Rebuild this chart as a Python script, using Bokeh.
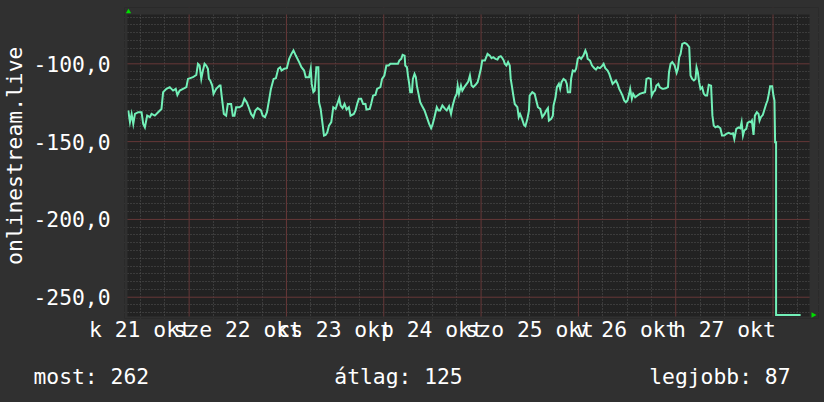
import math
from bokeh.plotting import figure
from bokeh.layouts import column, row
from bokeh.models import (FixedTicker, Grid, BoxAnnotation, PolyAnnotation, AllLabels, Range1d, Span)
from bokeh.core.properties import value
from bokeh.embed import file_html
from bokeh.resources import INLINE

# ---- data (hours since 21 okt 00:00, value) ----
hours = [9.0, 9.41, 9.82, 10.23, 10.64, 11.45, 12.27, 12.68, 13.09, 13.66, 14.32, 14.73, 15.54, 16.36,
         17.18, 17.59, 18.41, 19.23, 20.04, 20.70, 21.11, 21.68, 22.50, 23.32, 23.72, 24.95, 25.77, 26.18,
         26.59, 27.0, 27.4, 27.81, 28.22, 28.63, 28.88, 29.2, 29.7, 30.02, 30.68, 31.5, 31.74, 32.07, 32.56,
         33.13, 33.54, 34.36, 34.77, 35.18, 35.59, 36.4, 37.06, 37.63, 38.2, 38.69, 39.27, 39.84, 40.33, 40.9,
         41.72, 42.13, 42.70, 43.19, 43.76, 44.17, 44.83, 45.40, 45.97, 46.46, 46.79, 47.44, 48.10, 48.67,
         49.24, 49.73, 50.31, 51.13, 51.70, 52.35, 52.76, 53.58, 53.99, 54.23, 54.64, 54.97, 55.38, 55.87,
         56.03, 56.44, 56.85, 57.26, 57.67, 58.08, 58.49, 59.06, 59.55, 60.12, 60.53, 61.02, 61.35, 61.84,
         62.33, 62.82, 63.40, 63.80, 64.62, 65.03, 65.44, 65.85, 66.42, 66.91, 67.49, 67.73, 68.55, 68.88,
         69.37, 69.94, 70.35, 71.17, 71.58, 72.15, 72.64, 73.21, 73.62, 74.44,
         74.85, 75.50, 75.83, 76.32, 76.65, 77.14, 77.30, 77.71, 77.96, 78.28, 78.53, 78.94, 79.18, 79.59,
         79.92, 80.16, 80.57, 80.98, 81.39, 82.05, 82.62, 83.19, 83.68, 84.01, 84.50, 85.07, 85.48, 85.89,
         86.46, 87.12, 87.53, 88.10, 88.59, 89.0, 89.57, 89.98, 90.23, 90.55, 91.04, 91.37, 91.86, 92.44,
         92.84, 93.25, 93.66, 94.07, 94.64, 95.14, 95.46, 95.95, 96.28, 96.94, 97.59, 98.16, 98.57, 98.98,
         99.55, 100.04, 100.37, 100.86, 101.27, 101.60, 101.84, 102.25, 102.66, 103.07, 103.31, 103.64,
         103.89, 104.30, 104.95, 105.28, 105.61, 106.10, 106.59, 106.92, 107.41, 107.81,
         107.98, 108.63, 109.21, 109.61, 110.02, 110.60, 111.09, 111.66, 112.07, 112.48, 112.72, 113.30,
         113.70, 113.87, 114.36, 114.69, 115.18, 115.50, 115.83, 116.32, 116.81, 117.14, 117.39, 117.96,
         118.20, 118.61, 119.10, 119.43, 119.84, 120.25, 120.66, 121.23, 121.72, 122.05, 122.29, 122.87,
         123.36, 123.93, 124.34, 124.75, 125.32, 125.81, 126.22, 126.63, 127.20, 127.61, 128.02, 128.43,
         128.84, 129.25, 129.66, 130.07, 130.47, 130.88, 131.29, 131.70, 132.11, 132.52, 132.77, 133.18,
         133.50, 134.0, 134.57, 135.14, 135.79, 136.45, 136.78, 137.27, 137.84, 138.08, 138.49, 138.90,
         139.23, 139.72, 140.05, 140.70,
         140.94, 141.52, 142.09, 142.34, 142.74, 143.15, 143.73, 144.22, 144.54, 144.87, 145.20, 145.61,
         146.18, 146.67, 147.0, 147.33, 147.65, 148.06, 148.47, 148.88, 149.13, 149.45, 149.78, 150.11,
         150.52, 150.92, 151.33, 151.74, 152.15, 152.72, 153.05, 153.38, 153.79, 154.36, 155.01, 155.42,
         155.99, 156.49, 157.06, 157.63, 158.12, 158.45, 158.94, 159.51, 159.92, 160.25, 160.58, 160.90,
         161.39, 161.72, 162.21, 162.54, 162.79, 163.19, 163.52, 164.01, 164.42, 164.67, 164.99, 165.49,
         165.81, 166.30, 166.63, 166.96, 167.28, 167.78, 168.10, 168.35, 168.51, 168.75, 168.75, 174.8]

values = [-130.0, -137.5, -132.2, -138.6, -132.2, -131.1, -131.1, -138.6, -140.8, -133.3, -134.3, -132.2,
          -133.3, -131.1, -129.0, -118.2, -116.1, -115.0, -117.2, -116.1, -120.0, -117.2, -116.1, -115.0,
          -109.7, -108.6, -107.1, -100.0, -101.1, -109.7, -104.3, -100.0, -101.1, -103.2, -109.7, -110.7,
          -114.0, -119.3, -116.1, -114.0, -114.0, -121.5, -132.2, -133.3, -125.8, -125.8, -133.3, -133.3,
          -127.9, -127.9, -126.8, -122.5, -124.7, -127.9, -132.2, -134.3, -130.0, -128.5,
          -130.0, -133.3, -134.3, -131.1, -122.5, -116.1, -109.7, -109.2, -103.2, -102.2, -104.3, -103.2,
          -102.8, -96.8, -93.6, -91.4, -94.7, -98.9, -102.2, -104.3, -108.6, -108.6, -103.2, -112.9, -118.2,
          -117.2, -102.2, -102.2, -124.7, -129.0, -137.5, -146.1, -145.7, -144.0, -139.7, -137.5, -127.9,
          -129.0, -125.8, -122.1, -126.8, -128.5, -125.8, -129.4, -127.9, -133.3, -132.2, -130.0, -125.8,
          -122.5, -122.5, -125.8, -125.8, -129.4, -129.0, -125.8, -120.4, -120.0, -116.1, -115.0, -109.7,
          -107.5, -101.1, -101.1, -100.0, -100.0,
          -100.0, -100.0, -97.9, -96.8, -94.2, -94.7, -101.1, -102.2, -107.5, -112.9, -118.2, -118.2, -109.7,
          -106.5, -108.6, -114.0, -119.3, -124.7, -126.8, -130.0, -134.3, -138.6, -141.4, -139.3, -134.3,
          -127.9, -130.0, -130.0, -126.8, -129.0, -130.0, -127.3, -132.2, -126.8, -121.5, -119.3, -114.0,
          -119.3, -114.0, -117.2, -115.0, -112.9, -111.4, -107.5, -114.0, -115.0, -113.5, -111.8, -108.6,
          -103.2, -97.9, -97.9, -93.6, -94.7, -96.4, -95.7, -96.8, -97.2, -95.7, -95.1, -96.4, -97.9, -100.0,
          -101.1, -98.9, -101.1, -109.7, -115.0, -119.3, -125.8, -127.9, -134.3, -132.2, -135.4, -139.3,
          -140.1, -135.4, -130.0,
          -120.4, -118.2, -119.3, -123.6, -127.9, -129.0, -134.3, -132.2, -130.0, -128.5, -136.5, -135.4,
          -133.3, -126.8, -121.5, -115.0, -112.9, -116.1, -111.8, -109.7, -110.7, -112.9, -118.2, -118.2,
          -109.7, -104.3, -104.9, -103.2, -96.8, -95.7, -96.8, -94.7, -91.4, -93.6, -96.8, -97.9, -101.1,
          -102.8, -103.7, -102.2, -102.8, -101.5, -100.0, -102.8, -104.3, -106.5, -109.7, -112.9, -111.8,
          -110.7, -112.9, -116.1, -118.2, -120.4, -123.6, -124.7, -123.6, -119.3, -116.1, -122.5, -119.3,
          -121.5, -120.4, -119.3, -118.7, -118.2, -109.7, -109.2, -109.7, -120.4, -118.2, -117.2, -114.0,
          -112.9, -115.0, -116.1,
          -116.1, -115.7, -115.0, -105.4, -100.0, -98.9, -101.1, -105.8, -103.2, -95.7, -93.6, -87.2, -86.5,
          -87.2, -88.2, -89.3, -107.5, -109.7, -110.7, -109.7, -102.2, -105.4, -111.8, -116.1, -115.0, -119.3,
          -120.4, -120.4, -113.5, -114.0, -133.3, -139.7, -140.8, -140.1, -141.4, -146.1, -146.1, -145.0,
          -144.4, -145.0, -144.6, -148.3, -141.8, -140.8, -141.4, -137.5, -146.1, -142.9, -141.8, -138.0,
          -137.1, -137.5, -136.5, -145.7, -133.3, -131.1, -132.2, -136.5, -134.3, -132.8, -130.0, -125.8,
          -123.6, -119.3, -114.4, -114.4, -120.4, -123.6, -150.4, -150.4, -261.5, -261.5]

day_label_hours = [12, 36, 60, 84, 108, 132, 156]
day_labels = ["k 21 okt", "sze 22 okt", "cs 23 okt", "p 24 okt", "szo 25 okt", "v 26 okt", "h 27 okt"]
y_label_values = [-250, -200, -150, -100]
y_labels = ["-250,0", "-200,0", "-150,0", "-100,0"]
series_name = "onlinestream.live"
stat_texts = ["most: 262", "átlag: 125", "legjobb: 87"]

FONT = "DejaVu Sans Mono"
FS = "16pt"
BG = "#303030"
PLOT_BG = "#222222"

# plotted area: x from 8.8 h to 177 h, y from -262.4 to -68.3
X0, X1, Y0, Y1 = 8.8, 177.0, -262.4, -68.3
PX_H = 4.0725      # pixels per hour
PX_V = 1.556       # pixels per unit
# the frame is a little larger than the plotted area so that the axis arrows fit
FL, FR, FT, FB = 3, 9, 7, 2   # extra pixels left, right, top, bottom

p = figure(width=794, height=346, output_backend="svg", toolbar_location=None,
           x_range=Range1d(X0 - FL / PX_H, X1 + FR / PX_H),
           y_range=Range1d(Y0 - FB / PX_V, Y1 + FT / PX_V),
           min_border_left=91, min_border_right=6, min_border_top=7, min_border_bottom=28)
p.background_fill_color = PLOT_BG
p.border_fill_color = BG
p.outline_line_color = None
p.grid.visible = False

# minor grid (every 6 h / every 5 units)
minor_x = [h for h in range(12, 177, 6) if h % 24 != 0]
minor_y = [v for v in range(-260, -65, 5) if v % 50 != 0]
for dim, ticks in [(0, minor_x), (1, minor_y)]:
    p.add_layout(Grid(dimension=dim, ticker=FixedTicker(ticks=ticks), grid_line_color="#545454",
                      grid_line_dash="1 2", grid_line_width=1))

# major grid (midnights / every 50 units), drawn under the data
major_x = list(range(24, 177, 24))
major_y = list(range(-250, -65, 50))
for loc in major_x:
    p.add_layout(Span(location=loc, dimension="height", line_color="#663838",
                      line_width=1, level="underlay"))
for loc in major_y:
    p.add_layout(Span(location=loc, dimension="width", line_color="#663838",
                      line_width=1, level="underlay"))

# x axis
xa = p.xaxis[0]
xa.ticker = FixedTicker(ticks=day_label_hours)
xa.major_label_overrides = {h: t for h, t in zip(day_label_hours, day_labels)}
xa.major_label_policy = AllLabels()
xa.major_tick_line_color = None
xa.minor_tick_line_color = None
xa.major_tick_out = 0
xa.minor_tick_out = 0
xa.axis_line_color = None
xa.major_label_text_font = FONT
xa.major_label_text_font_size = FS
xa.major_label_text_color = "white"
xa.major_label_standoff = -2

# y axis
ya = p.yaxis[0]
ya.ticker = FixedTicker(ticks=y_label_values)
ya.major_label_overrides = {v: t for v, t in zip(y_label_values, y_labels)}
ya.major_tick_line_color = None
ya.minor_tick_line_color = None
ya.major_tick_out = 0
ya.minor_tick_out = 0
ya.axis_line_color = None
ya.major_label_text_font = FONT
ya.major_label_text_font_size = FS
ya.major_label_text_color = "white"
ya.major_label_standoff = 14

p.line(hours, values, line_color="#72F0B8", line_width=2, line_join="miter")

# page-coloured margins around the plotted area (inside the frame)
for kw in [dict(right=X0), dict(left=X1), dict(bottom=Y1), dict(top=Y0)]:
    p.add_layout(BoxAnnotation(fill_color=BG, fill_alpha=1, line_color=None, **kw))

# green arrows at the ends of the axes
ax = X0 + 1 / PX_H
p.add_layout(PolyAnnotation(xs=[ax - 2.7 / PX_H, ax + 2.7 / PX_H, ax],
                            ys=[Y1 + 1.3 / PX_V, Y1 + 1.3 / PX_V, Y1 + 5.7 / PX_V],
                            fill_color="#00DD00", fill_alpha=1, line_color=None))
ay = Y0 + 1.5 / PX_V
p.add_layout(PolyAnnotation(xs=[X1 + 2 / PX_H, X1 + 2 / PX_H, X1 + 7 / PX_H],
                            ys=[ay + 2.8 / PX_V, ay - 2.8 / PX_V, ay],
                            fill_color="#00DD00", fill_alpha=1, line_color=None))

# vertical series title strip on the left
t = figure(width=30, height=346, output_backend="svg", toolbar_location=None,
           x_range=Range1d(0, 30), y_range=Range1d(346, 0),
           x_axis_location=None, y_axis_location=None, min_border=0)
t.background_fill_color = BG
t.border_fill_color = BG
t.outline_line_color = None
t.grid.visible = False
t.text(x=[14], y=[165], text=[series_name], angle=math.pi / 2, text_font=value(FONT),
       text_font_size=FS, text_color="white", text_align="center", text_baseline="middle")

# statistics strip below
s = figure(width=824, height=56, output_backend="svg", toolbar_location=None,
           x_range=Range1d(0, 824), y_range=Range1d(56, 0),
           x_axis_location=None, y_axis_location=None, min_border=0)
s.background_fill_color = BG
s.border_fill_color = BG
s.outline_line_color = None
s.grid.visible = False
for txt, x, align in zip(stat_texts, [33, 398, 790], ["left", "center", "right"]):
    s.text(x=[x], y=[29.5], text=[txt], text_font=value(FONT), text_font_size=FS,
           text_color="white", text_align=align, text_baseline="middle")

layout = column(row(t, p, spacing=0), s, spacing=0)
html = file_html(layout, INLINE)
html = html.replace("</head>", "<style>html,body{background:%s;}</style></head>" % BG, 1)
open("out.html", "w").write(html)
